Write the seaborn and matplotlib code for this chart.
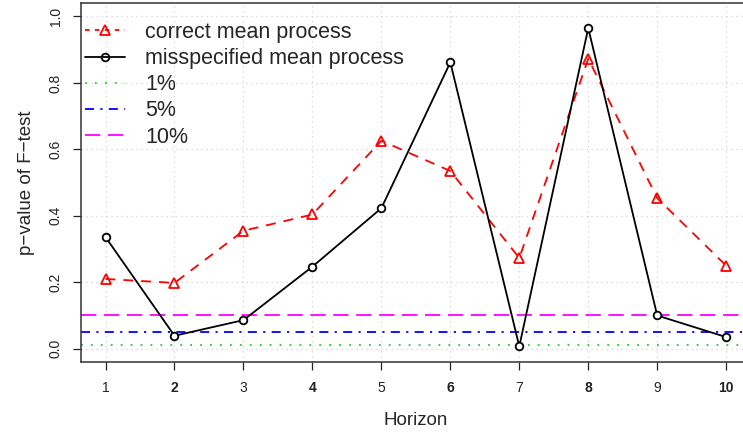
import numpy as np
import matplotlib
matplotlib.use("Agg")
import matplotlib.pyplot as plt
from matplotlib.lines import Line2D
import seaborn as sns

# values
horizon = [1, 2, 3, 4, 5, 6, 7, 8, 9, 10]
correct_mean = [0.210, 0.198, 0.355, 0.404, 0.626, 0.535, 0.273, 0.873, 0.453, 0.250]
misspec_mean = [0.336, 0.039, 0.086, 0.247, 0.423, 0.862, 0.007, 0.965, 0.100, 0.035]
levels = [0.01, 0.05, 0.10]
level_labels = ["1%", "5%", "10%"]
level_colors = ["#22cc22", "#0000ff", "#ff00ff"]
level_dashes = [(0, (1, 4.5)), (0, (5, 3.5, 1.2, 3.5)), (0, (8.5, 4.2))]

sns.set_style("white")
plt.rcParams["font.family"] = ["Liberation Sans", "DejaVu Sans"]

fig = plt.figure(figsize=(7.43, 4.32), dpi=100)
# axes box: left 80.7px, right 751px (cut off), top 3px, bottom 362px
ax = fig.add_axes([80.7 / 743, 1 - 362 / 432, (751 - 80.7) / 743, (362 - 3.2) / 432])

lw = 1.3
# grid
for xv in horizon:
    ax.axvline(xv, color="#d3d3d3", lw=0.9, ls=(0, (1, 3)), zorder=0)
for yv in np.arange(0, 1.01, 0.2):
    ax.axhline(yv, color="#d3d3d3", lw=0.9, ls=(0, (1, 3)), zorder=0)

for lv, col, dsh in zip(levels, level_colors, level_dashes):
    ax.axhline(lv, color=col, lw=lw, ls=dsh, zorder=1)

sns.lineplot(x=horizon, y=correct_mean, ax=ax, color="red", lw=lw,
             linestyle=(0, (5.5, 4.4)), marker="^", markersize=6.5,
             markerfacecolor="none", markeredgecolor="red", markeredgewidth=1.3, zorder=3)
sns.lineplot(x=horizon, y=misspec_mean, ax=ax, color="black", lw=lw,
             linestyle="-", marker="o", markersize=5.5,
             markerfacecolor="white", markeredgecolor="black", markeredgewidth=1.3, zorder=4)

ax.set_xlim(0.64, 10.36)
ax.set_ylim(-0.04, 1.04)
ax.set_xticks(horizon)
ax.set_xticklabels([str(h) for h in horizon])
for i, t in enumerate(ax.get_xticklabels()):
    if horizon[i] % 2 == 0:
        t.set_fontweight("bold")
ax.set_yticks(np.arange(0, 1.01, 0.2))
ax.set_yticklabels(["%.1f" % v for v in np.arange(0, 1.01, 0.2)], rotation=90, va="center")
ax.tick_params(axis="both", direction="out", length=6, width=0.9, labelsize=10,
               colors="#222222", bottom=True, left=True)
ax.tick_params(axis="x", pad=8)
ax.tick_params(axis="y", pad=7)
for s in ax.spines.values():
    s.set_color("#333333")
    s.set_linewidth(1.1)

ax.set_xlabel("Horizon", fontsize=13.5, labelpad=12)
ax.set_ylabel("p\u2212value of F\u2212test", fontsize=13.5, labelpad=10)

handles = [
    Line2D([], [], color="red", lw=lw, ls=(0, (2.5, 3)), marker="^", markersize=6.5,
           markerfacecolor="none", markeredgecolor="red", markeredgewidth=1.3),
    Line2D([], [], color="black", lw=lw, marker="o", markersize=5.5,
           markerfacecolor="none", markeredgecolor="black", markeredgewidth=1.3),
]
labels = ["correct mean process", "misspecified mean process"]
for col, dsh, lab in zip(level_colors, level_dashes, level_labels):
    handles.append(Line2D([], [], color=col, lw=lw, ls=dsh))
    labels.append(lab)
ax.legend(handles, labels, loc="upper left", bbox_to_anchor=(85 / 743, 1 - 22 / 432),
          bbox_transform=fig.transFigure, frameon=False,
          fontsize=15.5, handlelength=1.85, handletextpad=0.95, labelspacing=0.24,
          borderaxespad=0, borderpad=0)

fig.savefig("out.png", dpi=100)
